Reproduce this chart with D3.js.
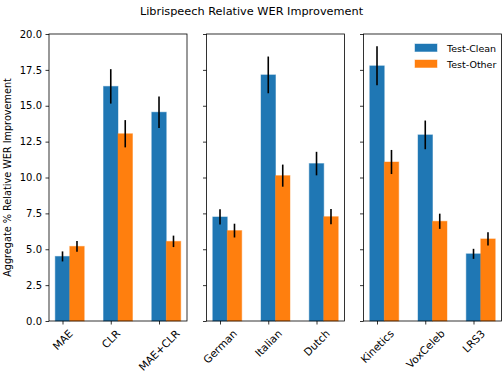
<!DOCTYPE html>
<html>
<head>
  <meta charset="utf-8">
  <title>Librispeech Relative WER Improvement</title>
  <style>
    body { margin: 0; background: #fff; }
    text { font-family: "DejaVu Sans", sans-serif; fill: #000; }
  </style>
</head>
<body>
  <svg id="chart"></svg>
  <script src="https://cdnjs.cloudflare.com/ajax/libs/d3/7.8.5/d3.min.js"></script>
  <script>
    // data
    const groups = [
      ["MAE", "CLR", "MAE+CLR"],
      ["German", "Italian", "Dutch"],
      ["Kinetics", "VoxCeleb", "LRS3"]
    ];
    const seriesNames = ["Test-Clean", "Test-Other"];
    const cleanValues = [[4.5, 16.35, 14.55], [7.25, 17.15, 10.97], [17.78, 12.97, 4.68]];
    const cleanErrors = [[0.35, 1.2, 1.1], [0.53, 1.28, 0.82], [1.36, 1.0, 0.35]];
    const otherValues = [[5.2, 13.05, 5.55], [6.3, 10.13, 7.27], [11.08, 6.95, 5.72]];
    const otherErrors = [[0.38, 0.95, 0.4], [0.48, 0.77, 0.53], [0.84, 0.53, 0.46]];
    const yTicks = [0, 2.5, 5, 7.5, 10, 12.5, 15, 17.5, 20];
    const colors = ["#1f77b4", "#ff7f0e"];

    const W = 504, H = 374;
    const svg = d3.select("#chart").attr("width", W).attr("height", H);

    const plotTop = 34, plotBottom = 321;
    const panelLeft = [49, 206.5, 363.5];
    const panelW = 138;
    const barW = 0.3;

    const y = d3.scaleLinear().domain([0, 20]).range([plotBottom, plotTop]);

    // title
    svg.append("text")
      .attr("x", 251.5).attr("y", 15)
      .attr("text-anchor", "middle")
      .style("font-size", "11.3px")
      .text("Librispeech Relative WER Improvement");

    // y label
    svg.append("text")
      .attr("transform", `translate(11,${(plotTop + plotBottom) / 2}) rotate(-90)`)
      .attr("text-anchor", "middle")
      .style("font-size", "9.7px")
      .text("Aggregate % Relative WER Improvement");

    groups.forEach((cats, p) => {
      const x = d3.scaleLinear()
        .domain([-0.28, 2.58])
        .range([panelLeft[p], panelLeft[p] + panelW]);
      const g = svg.append("g");

      const series = [
        { vals: cleanValues[p], errs: cleanErrors[p], off: 0 },
        { vals: otherValues[p], errs: otherErrors[p], off: barW }
      ];

      series.forEach((s, si) => {
        g.selectAll(null)
          .data(s.vals)
          .join("rect")
          .attr("x", (d, i) => x(i + s.off - barW / 2))
          .attr("width", x(barW) - x(0))
          .attr("y", d => y(d))
          .attr("height", d => y(0) - y(d))
          .attr("fill", colors[si])
          .attr("stroke", colors[si])
          .attr("stroke-opacity", 0.45)
          .attr("stroke-width", 1);
      });

      series.forEach(s => {
        g.selectAll(null)
          .data(s.vals)
          .join("line")
          .attr("x1", (d, i) => x(i + s.off))
          .attr("x2", (d, i) => x(i + s.off))
          .attr("y1", (d, i) => y(d - s.errs[i]))
          .attr("y2", (d, i) => y(d + s.errs[i]))
          .attr("stroke", "#000")
          .attr("stroke-width", 1.6);
      });

      // y axis
      const yAxis = d3.axisLeft(y).tickValues(yTicks).tickSizeOuter(0).tickSize(3.5).tickPadding(3.5)
        .tickFormat(p === 0 ? d3.format(".1f") : () => "");
      const ya = g.append("g").attr("transform", `translate(${panelLeft[p]},0)`).call(yAxis);
      ya.select(".domain").remove();
      ya.selectAll("text").style("font-size", "10px").attr("fill", "#000");
      ya.selectAll("line").attr("stroke", "#000").attr("stroke-width", 0.8);

      // x axis ticks
      const xa = g.append("g").attr("transform", `translate(0,${plotBottom})`)
        .call(d3.axisBottom(x).tickValues([0, 1, 2]).tickSize(3.5).tickFormat(() => ""));
      xa.select(".domain").remove();
      xa.selectAll("line").attr("stroke", "#000").attr("stroke-width", 0.8);

      // rotated category labels, bbox centred on tick
      cats.forEach((c, i) => {
        const t = g.append("text")
          .style("font-size", "10.6px")
          .attr("text-anchor", "middle")
          .attr("dominant-baseline", "central")
          .text(c);
        const w = t.node().getComputedTextLength();
        const h = 10;
        const half = (w + h) / (2 * Math.SQRT2);
        t.attr("transform", `translate(${x(i)},${plotBottom + 7 + half}) rotate(-45)`);
      });

      // frame
      g.append("rect")
        .attr("x", panelLeft[p]).attr("y", plotTop)
        .attr("width", panelW).attr("height", plotBottom - plotTop)
        .attr("fill", "none").attr("stroke", "#000").attr("stroke-width", 0.8);
    });

    // legend in the last panel
    const leg = svg.append("g");
    seriesNames.forEach((n, i) => {
      leg.append("rect")
        .attr("x", 415).attr("y", 44 + i * 16)
        .attr("width", 22).attr("height", 7.5)
        .attr("fill", colors[i])
        .attr("stroke", colors[i]).attr("stroke-opacity", 0.45);
      leg.append("text")
        .attr("x", 447).attr("y", 51.5 + i * 16)
        .style("font-size", "9.5px")
        .text(n);
    });
  </script>
</body>
</html>
